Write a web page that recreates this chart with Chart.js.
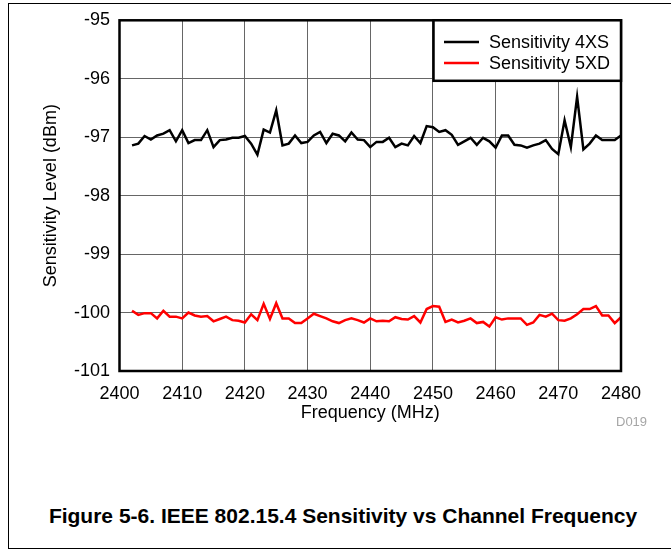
<!DOCTYPE html>
<html>
<head>
<meta charset="utf-8">
<script src="https://cdn.jsdelivr.net/npm/chart.js@4/dist/chart.umd.min.js"></script>
<style>
  html, body { margin: 0; padding: 0; background: #fff; }
  body { width: 671px; height: 550px; position: relative; overflow: hidden; font-family: "Liberation Sans", Arial, sans-serif; }
  #frame { position: absolute; left: 8px; top: 3px; width: 700px; height: 546px; box-sizing: border-box;
           border-left: 1px solid #000; border-top: 1px solid #000; border-bottom: 1px solid #000; }
  #wrap { position: absolute; left: 0; top: 0; width: 671px; height: 430px; }
  #caption { position: absolute; left: 0; width: 686px; top: 503px; text-align: center;
             font-weight: bold; font-size: 21px; line-height: 26px; color: #000; white-space: nowrap; }
  #code { position: absolute; left: 616px; top: 414px; font-size: 13px; line-height: 16px; color: #a6a6a6; }
</style>
</head>
<body>
<div id="frame"></div>
<div id="wrap"><canvas id="c" width="671" height="430"></canvas></div>
<div id="code">D019</div>
<div id="caption">Figure 5-6. IEEE 802.15.4 Sensitivity vs Channel Frequency</div>
<script>
// Frequencies (MHz)
const frequencies = [2402,2403,2404,2405,2406,2407,2408,2409,2410,2411,2412,2413,2414,2415,2416,2417,2418,2419,2420,
  2421,2422,2423,2424,2425,2426,2427,2428,2429,2430,2431,2432,2433,2434,2435,2436,2437,2438,2439,2440,
  2441,2442,2443,2444,2445,2446,2447,2448,2449,2450,2451,2452,2453,2454,2455,2456,2457,2458,2459,2460,
  2461,2462,2463,2464,2465,2466,2467,2468,2469,2470,2471,2472,2473,2474,2475,2476,2477,2478,2479,2480];

// Sensitivity 4XS (dBm)
const sens4XS = [-97.14,-97.11,-96.98,-97.04,-96.97,-96.94,-96.88,-97.07,-96.88,-97.10,-97.05,-97.05,-96.88,-97.17,-97.05,-97.04,-97.01,-97.01,-96.98,
  -97.11,-97.30,-96.87,-96.92,-96.54,-97.14,-97.11,-96.97,-97.10,-97.08,-96.97,-96.91,-97.10,-96.94,-96.97,-97.07,-96.92,-97.04,-97.05,-97.17,
  -97.08,-97.08,-97.01,-97.17,-97.11,-97.14,-96.98,-97.10,-96.81,-96.83,-96.91,-96.88,-96.96,-97.13,-97.07,-97.01,-97.13,-97.01,-97.07,-97.18,
  -96.97,-96.97,-97.13,-97.14,-97.18,-97.14,-97.11,-97.05,-97.20,-97.29,-96.71,-97.17,-96.31,-97.21,-97.11,-96.97,-97.05,-97.05,-97.05,-96.97];

// Sensitivity 5XD (dBm)
const sens5XD = [-99.97,-100.04,-100.01,-100.01,-100.10,-99.97,-100.07,-100.07,-100.10,-100.00,-100.05,-100.07,-100.06,-100.15,-100.11,-100.07,-100.13,-100.14,-100.17,
  -100.03,-100.13,-99.85,-100.11,-99.84,-100.10,-100.10,-100.18,-100.18,-100.10,-100.02,-100.06,-100.10,-100.15,-100.18,-100.13,-100.10,-100.13,-100.17,-100.10,
  -100.15,-100.14,-100.15,-100.08,-100.11,-100.12,-100.06,-100.17,-99.94,-99.89,-99.90,-100.16,-100.12,-100.17,-100.14,-100.10,-100.18,-100.16,-100.24,-100.08,
  -100.12,-100.10,-100.10,-100.10,-100.21,-100.17,-100.04,-100.07,-100.02,-100.13,-100.14,-100.10,-100.03,-99.94,-99.94,-99.89,-100.05,-100.05,-100.18,-100.08];

const seriesLabels = ["Sensitivity 4XS", "Sensitivity 5XD"];
const seriesColors = ["#000000", "#ff0000"];

// Axis ticks
const xTicks = [2400,2410,2420,2430,2440,2450,2460,2470,2480];
const yTicks = [-101,-100,-99,-98,-97,-96,-95];

const FONT = "'Liberation Sans', Arial, sans-serif";

const framePlugin = {
  id: 'frameAndLegend',
  afterDatasetsDraw(chart) {
    const {ctx, chartArea: a} = chart;
    ctx.save();
    ctx.strokeStyle = '#000';
    ctx.lineWidth = 2.5;
    ctx.strokeRect(a.left, a.top, a.right - a.left, a.bottom - a.top);
    // legend box
    const bx = a.right - 187.5, by = a.top, bw = 187.5, bh = 60.5;
    ctx.fillStyle = '#fff';
    ctx.fillRect(bx, by, bw, bh);
    ctx.strokeRect(bx, by, bw, bh);
    ctx.font = "18px " + FONT;
    ctx.textBaseline = 'middle';
    ctx.textAlign = 'left';
    chart.data.datasets.forEach((ds, i) => {
      const y = by + 21.7 + i * 21;
      ctx.strokeStyle = ds.borderColor;
      ctx.lineWidth = 2.5;
      ctx.beginPath();
      ctx.moveTo(bx + 10.5, y);
      ctx.lineTo(bx + 45.5, y);
      ctx.stroke();
      ctx.fillStyle = '#000';
      ctx.fillText(ds.label, bx + 55.5, y + 1);
    });
    ctx.restore();
  }
};

const datasets = [sens4XS, sens5XD].map((vals, i) => ({
  label: seriesLabels[i],
  data: frequencies.map((f, j) => ({x: f, y: vals[j]})),
  borderColor: seriesColors[i],
  backgroundColor: seriesColors[i],
  borderWidth: 2.5,
  pointRadius: 0,
  tension: 0,
  fill: false
}));

new Chart(document.getElementById('c'), {
  type: 'line',
  data: { datasets },
  plugins: [framePlugin],
  options: {
    responsive: false,
    animation: false,
    devicePixelRatio: 1,
    layout: { padding: { left: 40, right: 50, top: 14.5, bottom: 0 } },
    plugins: { legend: { display: false }, tooltip: { enabled: false } },
    scales: {
      x: {
        type: 'linear',
        min: xTicks[0], max: xTicks[xTicks.length - 1],
        afterBuildTicks: s => { s.ticks = xTicks.map(v => ({value: v})); },
        afterFit: s => { s.height = 59; },
        grid: { color: '#666', lineWidth: 1, drawTicks: false },
        border: { display: false },
        ticks: { color: '#000', font: { size: 18, family: FONT }, padding: 12, maxRotation: 0, autoSkip: false,
                 callback: v => String(v) },
        title: { display: true, text: 'Frequency (MHz)', color: '#000', font: { size: 18, family: FONT }, padding: { top: 0, bottom: 6 } }
      },
      y: {
        type: 'linear',
        min: yTicks[0], max: yTicks[yTicks.length - 1],
        afterBuildTicks: s => { s.ticks = yTicks.map(v => ({value: v})); },
        afterFit: s => { s.width = 79.5; },
        grid: { color: '#666', lineWidth: 1, drawTicks: false },
        border: { display: false },
        ticks: { color: '#000', font: { size: 18, family: FONT }, padding: 9.5, autoSkip: false,
                 callback: v => String(v) },
        title: { display: true, text: 'Sensitivity Level (dBm)', color: '#000', font: { size: 18, family: FONT }, padding: { top: 0, bottom: 0 } }
      }
    }
  }
});
</script>
</body>
</html>
